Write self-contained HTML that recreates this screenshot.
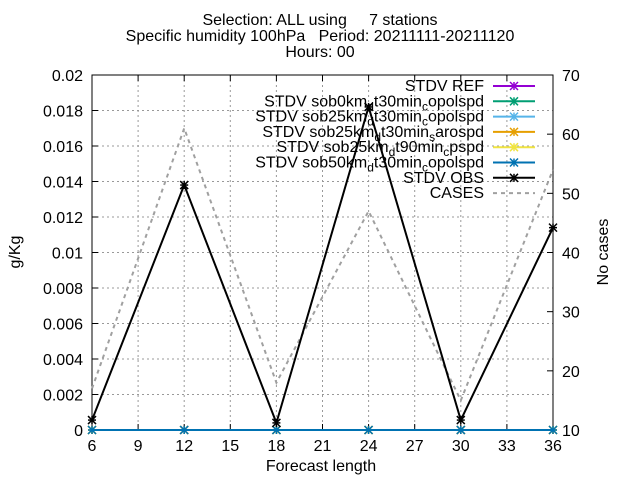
<!DOCTYPE html>
<html><head><meta charset="utf-8"><style>
body{margin:0;background:#fff;}
svg text{font-family:"Liberation Sans",sans-serif;font-size:16px;fill:#000;}
</style></head><body>
<svg id="chart" width="640" height="480" xmlns="http://www.w3.org/2000/svg">
<text x="320" y="25" text-anchor="middle" style="white-space:pre">Selection: ALL using     7 stations</text>
<text x="320" y="41" text-anchor="middle" style="white-space:pre">Specific humidity 100hPa   Period: 20211111-20211120</text>
<text x="320" y="57" text-anchor="middle">Hours: 00</text>
<g id="grid"></g><g id="axes"></g><g id="series"></g><g id="legend"></g>
<text transform="translate(20,252) rotate(-90)" text-anchor="middle">g/Kg</text>
<text transform="translate(608,252) rotate(-90)" text-anchor="middle">No cases</text>
<text x="321" y="471" text-anchor="middle">Forecast length</text>
</svg>
<script>
const categories=[6,12,18,24,30,36];
const obsValues=[0.00056,0.0138,0.0004,0.0182,0.00056,0.0114];
const refValues=[0,0,0,0,0,0];
const casesValues=[17,61,18,47,15,54];
const xTicks=[6,9,12,15,18,21,24,27,30,33,36];
const yTicks=[0,0.002,0.004,0.006,0.008,0.01,0.012,0.014,0.016,0.018,0.02];
const y2Ticks=[10,20,30,40,50,60,70];
const L=92,R=553,T=75,B=430;
const NS="http://www.w3.org/2000/svg";
const xs=v=>L+(v-6)/30*(R-L);
const ys=v=>B-v/0.02*(B-T);
const y2s=v=>B-(v-10)/60*(B-T);
function mk(p,tag,at){const e=document.createElementNS(NS,tag);for(const k in at)e.setAttribute(k,at[k]);document.getElementById(p).appendChild(e);return e;}
xTicks.forEach(t=>{const x=xs(t);
 if(t>6&&t<36){const g=mk('grid','line',{x1:x,x2:x,y1:T,y2:B,stroke:'#999','stroke-dasharray':'2,3'});
 
 }
 mk('axes','line',{x1:x,x2:x,y1:B,y2:B-6,stroke:'#000'});mk('axes','line',{x1:x,x2:x,y1:T,y2:T+6,stroke:'#000'});
 const tx=mk('axes','text',{x:x,y:B+21,'text-anchor':'middle'});tx.textContent=t;
 
 });
yTicks.forEach(t=>{const y=ys(t);
 if(t>0&&t<0.02){const g=mk('grid','line',{x1:L,x2:R,y1:y,y2:y,stroke:'#999','stroke-dasharray':'2,3'});
 
 }
 mk('axes','line',{x1:L,x2:L+6,y1:y,y2:y,stroke:'#000'});
 const tx=mk('axes','text',{x:L-9,y:y+6,'text-anchor':'end'});tx.textContent=String(+t.toFixed(3));
 
 });
y2Ticks.forEach(t=>{const y=y2s(t);
 mk('axes','line',{x1:R-6,x2:R,y1:y,y2:y,stroke:'#000'});
 const tx=mk('axes','text',{x:R+9,y:y+6});tx.textContent=t;
 
 });
const fr=mk('axes','rect',{x:L,y:T,width:R-L,height:B-T,fill:'none',stroke:'#000'});


function star(g,x,y,c){[[-4,-4,4,4],[-4,4,4,-4],[-4,0,4,0],[0,-4,0,4]].forEach(d=>mk(g,'line',{x1:x+d[0],y1:y+d[1],x2:x+d[2],y2:y+d[3],stroke:c,'stroke-width':1.5}));}
const sub=(a,b)=>'<tspan dy="4" font-size="12">'+a+'</tspan><tspan dy="-4">'+b+'</tspan>';
const series=[['STDV REF','#9400d3',refValues],
['STDV sob0km'+sub('d','t30min')+sub('c','opolspd'),'#009e73',refValues],
['STDV sob25km'+sub('d','t30min')+sub('c','opolspd'),'#56b4e9',refValues],
['STDV sob25km'+sub('d','t30min')+sub('s','arospd'),'#e69f00',refValues],
['STDV sob25km'+sub('d','t90min')+sub('c','pspd'),'#f0e442',refValues],
['STDV sob50km'+sub('d','t30min')+sub('c','opolspd'),'#0072b2',refValues],
['STDV OBS','#000',obsValues]];
const cp=mk('series','polyline',{points:categories.map((c,i)=>xs(c)+','+y2s(casesValues[i])).join(' '),fill:'none',stroke:'#a0a0a0','stroke-width':2,'stroke-dasharray':'4,4'});


series.forEach((s,k)=>{
 const pl=mk('series','polyline',{points:categories.map((c,i)=>xs(c)+','+ys(s[2][i])).join(' '),fill:'none',stroke:s[1],'stroke-width':2});
 
 
 categories.forEach((c,i)=>star('series',xs(c),ys(s[2][i]),s[1]));
 const ly=86+k*15.3;
 const tx=mk('legend','text',{x:484,y:ly+5,'text-anchor':'end'});tx.innerHTML=s[0];
 
 
 mk('legend','line',{x1:493,x2:535,y1:ly,y2:ly,stroke:s[1],'stroke-width':2});star('legend',514,ly,s[1]);
});
const ly=86+7*15.3;
const tc=mk('legend','text',{x:484,y:ly+5,'text-anchor':'end'});tc.textContent='CASES';


mk('legend','line',{x1:493,x2:535,y1:ly,y2:ly,stroke:'#a0a0a0','stroke-width':2,'stroke-dasharray':'4,4'});
</script>
</body></html>
